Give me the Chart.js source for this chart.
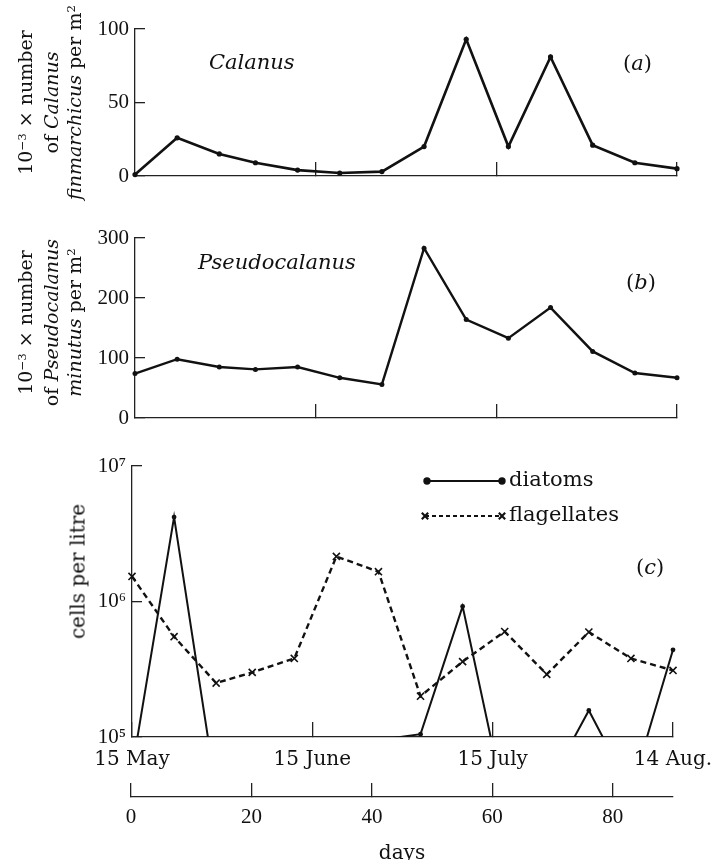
<!DOCTYPE html>
<html>
<head>
<meta charset="utf-8">
<script src="https://cdn.jsdelivr.net/npm/chart.js@4.4.0/dist/chart.umd.min.js"></script>
<style>
  html, body { margin: 0; padding: 0; background: #fff; }
  #wrap { position: relative; width: 711px; height: 860px; overflow: hidden; font-family: "DejaVu Serif", serif; color: #111; }
  canvas { position: absolute; left: 0; }
  .note { position: absolute; font-size: 21px; line-height: 22px; white-space: nowrap; }
  .note i { font-style: italic; }
  .ytitle { position: absolute; transform: rotate(-90deg); text-align: center; font-size: 19px; line-height: 23px; white-space: nowrap; color: #111; }
  sup { font-size: 0.62em; vertical-align: 0; position: relative; top: -0.55em; }
</style>
</head>
<body>
<div id="wrap">
  <canvas id="chartA" width="711" height="200" style="top:0"></canvas>
  <canvas id="chartB" width="711" height="230" style="top:200px"></canvas>
  <canvas id="chartC" width="711" height="350" style="top:430px"></canvas>
  <canvas id="chartD" width="711" height="90" style="top:780px"></canvas>

  <div class="ytitle" style="left:-67px; top:68px; width:230px; height:69px;">
    10<sup>−3</sup> × number<br>of <i>Calanus</i><br><i>finmarchicus</i> per m<sup>2</sup>
  </div>
  <div class="ytitle" style="left:-67px; top:288px; width:230px; height:69px;">
    10<sup>−3</sup> × number<br>of <i>Pseudocalanus</i><br><i>minutus</i> per m<sup>2</sup>
  </div>
  <div class="ytitle" style="left:-22px; top:560px; width:200px; height:23px; font-size:20px;">cells per litre</div>

  <div class="note" style="left:209px; top:51px;"><i>Calanus</i></div>
  <div class="note" style="left:623px; top:52px;">(<i>a</i>)</div>
  <div class="note" style="left:198px; top:251px;"><i>Pseudocalanus</i></div>
  <div class="note" style="left:626px; top:271px;">(<i>b</i>)</div>
  <div class="note" style="left:636px; top:556px;">(<i>c</i>)</div>
</div>
<script>
// sampling days after 15 May
const sampleDays = [0, 7, 14, 20, 27, 34, 41, 48, 55, 62, 69, 76, 83, 90];

// (a) 10^-3 x Calanus finmarchicus per m2
const calanus = [1, 26, 15, 9, 4, 2, 3, 20, 93, 20, 81, 21, 9, 5];
// (b) 10^-3 x Pseudocalanus minutus per m2
const pseudocalanus = [74, 98, 85, 81, 85, 67, 56, 283, 164, 133, 184, 111, 75, 67];
// (c) cells per litre (diatoms below 10^5 fall off the bottom of the axis)
const diatoms = [5.7e4, 4.2e6, 4.0e4, 5.0e4, 5.0e4, 6.0e4, 9.5e4, 1.05e5, 9.2e5, 3.3e4, 4.2e4, 1.57e5, 4.0e4, 4.4e5];
const flagellates = [1.53e6, 5.5e5, 2.5e5, 3.0e5, 3.8e5, 2.15e6, 1.66e6, 2.0e5, 3.6e5, 6.0e5, 2.9e5, 5.95e5, 3.8e5, 3.1e5];

// ticks
const dateTicks = [0, 30, 60, 90];
const dateLabels = ['15 May', '15 June', '15 July', '14 Aug.'];
const dayTicks = [0, 20, 40, 60, 80];
const calanusTicks = [0, 50, 100];
const pseudoTicks = [0, 100, 200, 300];
const cellTicks = [1e5, 1e6, 1e7];
const cellTickLabels = ['10⁵', '10⁶', '10⁷'];

const INK = '#111';
const AXIS = '#222';
const numFont = { family: "'Liberation Serif', serif", size: 21 };

function points(ys) {
    return sampleDays.map((d, i) => ({ x: d, y: ys[i] }));
}

function setTicks(values) {
    return scale => { scale.ticks = values.map(v => ({ value: v })); };
}

// fixed axis size, and no extra room reserved for overhanging end labels
function fixSize(size) {
    return s => {
        if (s.isHorizontal()) s.height = size; else s.width = size;
        s.paddingLeft = s.paddingRight = s.paddingTop = s.paddingBottom = 0;
    };
}

// x axis of the top two panels: only the inward marks at the month boundaries
function monthAxis(height) {
    return {
        type: 'linear', min: 0, max: 90,
        afterBuildTicks: setTicks(dateTicks.slice(1)),
        ticks: { display: false },
        grid: { drawOnChartArea: false, tickLength: -14, color: AXIS, lineWidth: 1.3 },
        border: { color: AXIS, width: 1.3 },
        afterFit: fixSize(height)
    };
}

function valueAxis(min, max, ticks, width) {
    return {
        min: min, max: max,
        afterBuildTicks: setTicks(ticks),
        ticks: { font: numFont, color: INK, padding: 16 },
        grid: { drawOnChartArea: false, tickLength: -10, color: AXIS, lineWidth: 1.3 },
        border: { color: AXIS, width: 1.3 },
        afterFit: fixSize(width)
    };
}

const baseOptions = {
    responsive: false,
    animation: false,
    events: [],
    plugins: { legend: { display: false }, tooltip: { enabled: false } }
};

// (a) Calanus
new Chart(document.getElementById('chartA'), {
    type: 'line',
    data: {
        datasets: [{
            data: points(calanus),
            borderColor: INK, borderWidth: 2.6,
            pointRadius: 2.6, pointBackgroundColor: INK, pointBorderWidth: 0,
            clip: 6
        }]
    },
    options: {
        ...baseOptions,
        layout: { padding: { left: 0, right: 34, top: 29, bottom: 0 } },
        scales: {
            x: monthAxis(24),
            y: valueAxis(0, 100, calanusTicks, 135)
        }
    }
});

// (b) Pseudocalanus
new Chart(document.getElementById('chartB'), {
    type: 'line',
    data: {
        datasets: [{
            data: points(pseudocalanus),
            borderColor: INK, borderWidth: 2.4,
            pointRadius: 2.5, pointBackgroundColor: INK, pointBorderWidth: 0,
            clip: 6
        }]
    },
    options: {
        ...baseOptions,
        layout: { padding: { left: 0, right: 34, top: 38, bottom: 0 } },
        scales: {
            x: monthAxis(12),
            y: valueAxis(0, 300, pseudoTicks, 135)
        }
    }
});

// legend drawn as a short line with its markers, like the original
const lineLegend = {
    id: 'lineLegend',
    afterDraw(chart) {
        const ctx = chart.ctx;
        const rows = [
            { ds: chart.data.datasets[0], x1: 427, x2: 502, y: 51 },
            { ds: chart.data.datasets[1], x1: 425, x2: 502, y: 86 }
        ];
        ctx.save();
        rows.forEach(r => {
            ctx.strokeStyle = INK;
            ctx.lineWidth = r.ds.borderWidth * 0.9;
            ctx.setLineDash(r.ds.legendDash || []);
            ctx.beginPath();
            ctx.moveTo(r.x1, r.y);
            ctx.lineTo(r.x2, r.y);
            ctx.stroke();
            ctx.setLineDash([]);
            const style = {
                pointStyle: r.ds.pointStyle || 'circle',
                radius: r.ds.pointStyle === 'crossRot' ? 4.5 : 2.8,
                borderWidth: r.ds.pointBorderWidth || 1
            };
            ctx.fillStyle = INK;
            Chart.helpers.drawPoint(ctx, style, r.x1, r.y);
            Chart.helpers.drawPoint(ctx, style, r.x2, r.y);
            ctx.font = "21px 'DejaVu Serif', serif";
            ctx.textBaseline = 'middle';
            ctx.fillText(r.ds.label, 509, r.y);
        });
        ctx.restore();
    }
};

// (c) diatoms and flagellates
new Chart(document.getElementById('chartC'), {
    type: 'line',
    data: {
        datasets: [{
            label: 'diatoms',
            data: points(diatoms),
            borderColor: INK, borderWidth: 2,
            pointRadius: 2.4, pointBackgroundColor: INK, pointBorderWidth: 0,
            clip: { left: 6, right: 6, top: 6, bottom: 0 }
        }, {
            label: 'flagellates',
            data: points(flagellates),
            borderColor: INK, borderWidth: 2.4, borderDash: [6, 4], legendDash: [4, 3],
            pointStyle: 'crossRot', pointRadius: 5, pointBorderWidth: 1.6,
            pointBorderColor: INK, pointBackgroundColor: INK,
            clip: 8
        }]
    },
    options: {
        ...baseOptions,
        layout: { padding: { left: 0, right: 38, top: 36, bottom: 0 } },
        scales: {
            x: {
                type: 'linear', min: 0, max: 90,
                afterBuildTicks: setTicks(dateTicks),
                ticks: {
                    font: { family: "'DejaVu Serif', serif", size: 20 }, color: INK,
                    padding: 26, autoSkip: false, maxRotation: 0,
                    callback: (v, i) => dateLabels[i]
                },
                grid: { drawOnChartArea: false, tickLength: -15, color: AXIS, lineWidth: 1.3 },
                border: { color: AXIS, width: 1.3 },
                afterFit: fixSize(43)
            },
            y: {
                type: 'logarithmic', min: 1e5, max: 1e7,
                afterBuildTicks: setTicks(cellTicks),
                ticks: { font: numFont, color: INK, padding: 16, callback: (v, i) => cellTickLabels[i] },
                grid: { drawOnChartArea: false, tickLength: -10, color: AXIS, lineWidth: 1.3 },
                border: { color: AXIS, width: 1.3 },
                afterFit: fixSize(132)
            }
        }
    },
    plugins: [lineLegend]
});

// separate "days" axis under the figure
new Chart(document.getElementById('chartD'), {
    type: 'line',
    data: { datasets: [] },
    options: {
        ...baseOptions,
        layout: { padding: { left: 131, right: 38, top: 0, bottom: 0 } },
        scales: {
            x: {
                type: 'linear', min: 0, max: 90,
                afterBuildTicks: setTicks(dayTicks),
                ticks: { font: numFont, color: INK, padding: 22, maxRotation: 0 },
                grid: { drawOnChartArea: false, tickLength: -14, color: AXIS, lineWidth: 1.3 },
                border: { color: AXIS, width: 1.3 },
                title: { display: true, text: 'days', color: INK, font: { family: "'DejaVu Serif', serif", size: 20 }, padding: { top: 0, bottom: 4 } },
                afterFit: fixSize(73)
            },
            y: { display: false }
        }
    }
});
</script>
</body>
</html>
